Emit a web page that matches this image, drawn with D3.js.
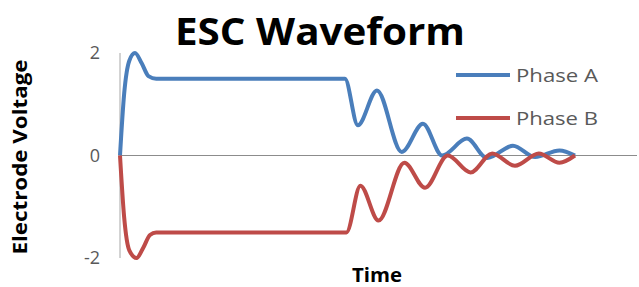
<!DOCTYPE html>
<html>
<head>
<meta charset="utf-8">
<script src="https://cdn.jsdelivr.net/npm/d3@7"></script>
<style>
  body { margin: 0; background: #fff; }
  text { font-family: "Open Sans", "DejaVu Sans", sans-serif; }
</style>
</head>
<body>
<div id="chart"></div>
<script>
// time (arbitrary units) and electrode voltage
const timeA = [0, 0.8, 1.8, 2.9, 4.2, 5.5, 7, 43.5, 46, 49.7, 54.5, 58.6, 62.3, 67.1, 71, 76, 80.3, 85, 88];
const phaseA = [0, 1.2, 1.85, 2.0, 1.8, 1.55, 1.5, 1.5, 0.59, 1.27, 0.07, 0.62, 0.0, 0.33, -0.05, 0.19, -0.03, 0.1, 0.0];
const timeB = [0, 0.8, 1.8, 3.2, 4.5, 5.8, 7, 43.8, 46.5, 50, 55, 59, 63.4, 67.8, 72, 76.4, 81, 85, 88];
const phaseB = [0, -1.2, -1.85, -2.0, -1.8, -1.55, -1.5, -1.5, -0.59, -1.27, -0.14, -0.63, 0.0, -0.33, 0.04, -0.2, 0.04, -0.14, 0.0];
const yTicks = [-2, 0, 2];
const seriesNames = ["Phase A", "Phase B"];
const seriesColors = ["#4a7ebb", "#be4b48"];

const width = 639, height = 287;

const svg = d3.select("#chart").append("svg")
  .attr("width", width)
  .attr("height", height);

const x = d3.scaleLinear().domain([0, 100]).range([120, 637]);
const y = d3.scaleLinear().domain([-2, 2]).range([258, 53]);

// title
svg.append("text")
  .attr("x", 320).attr("y", 45)
  .attr("text-anchor", "middle")
  .style("font-size", "38px").style("font-weight", "bold")
  .attr("textLength", 290).attr("lengthAdjust", "spacingAndGlyphs")
  .text("ESC Waveform");

// axes
svg.append("line")
  .attr("x1", x(0)).attr("x2", x(0))
  .attr("y1", y(2)).attr("y2", y(-2))
  .attr("stroke", "#a6a6a6").attr("stroke-width", 1);

svg.append("line")
  .attr("x1", x(0)).attr("x2", x(100))
  .attr("y1", y(0)).attr("y2", y(0))
  .attr("stroke", "#8c8c8c").attr("stroke-width", 1);

svg.selectAll(".ytick")
  .data(yTicks)
  .enter().append("text")
  .attr("class", "ytick")
  .attr("x", 100)
  .attr("y", d => y(d))
  .attr("dy", "0.35em")
  .attr("text-anchor", "end")
  .style("font-size", "18px")
  .style("fill", "#595959")
  .text(d => d);

svg.append("text")
  .attr("transform", "translate(27," + 157 + ") rotate(-90)")
  .attr("text-anchor", "middle")
  .style("font-size", "20px").style("font-weight", "bold")
  .attr("textLength", 195).attr("lengthAdjust", "spacingAndGlyphs")
  .text("Electrode Voltage");

svg.append("text")
  .attr("x", 377).attr("y", 282)
  .attr("text-anchor", "middle")
  .style("font-size", "19px").style("font-weight", "bold")
  .attr("textLength", 50).attr("lengthAdjust", "spacingAndGlyphs")
  .text("Time");

// lines
const line = d3.line()
  .x(d => x(d[0]))
  .y(d => y(d[1]))
  .curve(d3.curveMonotoneX);

const series = [
  d3.zip(timeA, phaseA),
  d3.zip(timeB, phaseB)
];

svg.selectAll(".series")
  .data(series)
  .enter().append("path")
  .attr("class", "series")
  .attr("d", line)
  .attr("fill", "none")
  .attr("stroke", (d, i) => seriesColors[i])
  .attr("stroke-width", 4)
  .attr("stroke-linejoin", "round");

// legend
const legend = svg.selectAll(".legend")
  .data(seriesNames)
  .enter().append("g")
  .attr("class", "legend")
  .attr("transform", (d, i) => "translate(456," + (75 + i * 43) + ")");

legend.append("line")
  .attr("x1", 0).attr("x2", 54)
  .attr("stroke", (d, i) => seriesColors[i])
  .attr("stroke-width", 4);

legend.append("text")
  .attr("x", 60)
  .attr("dy", "0.35em")
  .style("font-size", "19px")
  .style("fill", "#595959")
  .attr("textLength", 82).attr("lengthAdjust", "spacingAndGlyphs")
  .text(d => d);
</script>
</body>
</html>
